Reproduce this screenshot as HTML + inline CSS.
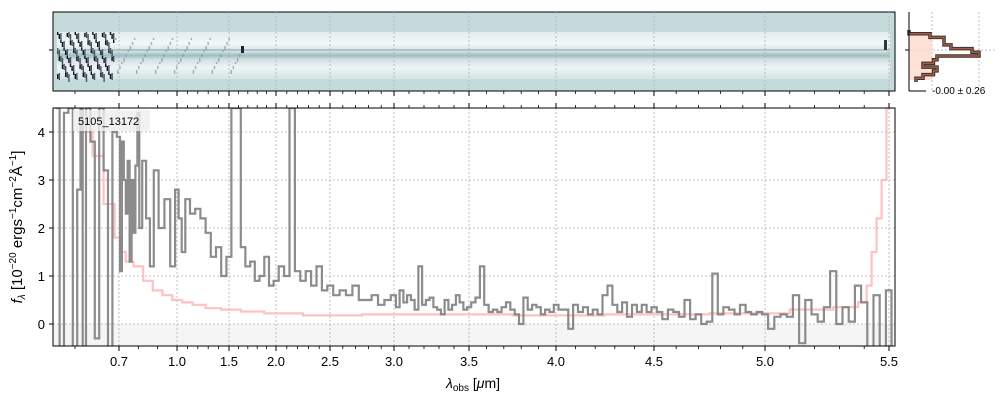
<!DOCTYPE html>
<html><head><meta charset="utf-8"><style>
body{margin:0;background:#fff}
svg{font-family:"Liberation Sans","DejaVu Sans",sans-serif}
</style></head><body>
<svg id="c" width="1000" height="400"></svg>
<script>
const bpW=[0.55,0.7,1.0,1.5,2.0,2.5,3.0,3.5,4.0,4.5,5.0,5.5,5.53];
const bpX=[53,119,177,229,276,330,394,469,556,654,765,889,895];
const xTicks=[0.7,1.0,1.5,2.0,2.5,3.0,3.5,4.0,4.5,5.0,5.5];
const xTickLabels=["0.7","1.0","1.5","2.0","2.5","3.0","3.5","4.0","4.5","5.0","5.5"];
const yTicks=[0,1,2,3,4];
const blueWave=[0.56,0.57,0.58,0.59,0.60,0.61,0.615,0.62,0.63,0.64,0.65,0.66,0.67,0.68,0.69,0.70,0.71,0.72,0.73,0.74,0.75,0.76,0.77,0.78,0.79,0.80,0.81,0.83,0.85,0.87,0.89,0.92,0.95,0.98,1.0,1.03,1.06,1.1,1.15,1.2,1.25,1.3,1.35,1.4,1.45,1.5,1.55,1.6,1.65,1.7,1.75,1.8,1.85,1.9,1.95,2.0,2.05,2.1,2.15,2.2,2.25,2.3,2.35,2.4,2.45,2.5,2.55,2.6,2.65,2.7,2.75,2.8,2.85,2.9,2.95];
const blueVal=[4.5,-0.5,4.4,4.5,-0.5,2.8,4.5,-0.5,4.5,3.8,-0.3,4.5,3.2,-0.5,4.0,3.9,1.1,3.8,3.0,2.3,3.4,1.3,3.0,1.9,3.3,4.4,2.0,3.4,2.2,1.2,3.2,2.0,2.6,1.2,2.8,2.2,1.5,2.6,2.3,2.4,2.2,1.9,1.4,1.6,1.0,1.4,4.5,4.5,1.6,1.2,1.3,0.9,1.0,1.4,0.8,0.9,1.2,1.0,4.5,1.1,0.9,1.1,0.8,1.2,0.7,0.8,0.6,0.7,0.6,0.8,0.5,0.5,0.6,0.4,0.5];
// red part sampled every 0.025 um from 3.0 to 5.5
const redVal=[0.6,0.35,0.7,0.45,0.6,0.5,0.3,1.2,0.4,0.5,0.55,0.35,0.3,0.2,0.5,0.3,0.4,0.6,0.45,0.3,
0.35,0.45,0.55,1.2,0.4,0.25,0.3,0.25,0.35,0.45,0.3,0.2,0.0,0.55,0.3,0.4,0.35,0.2,0.3,0.25,
0.4,0.3,0.3,-0.1,0.4,0.25,0.35,0.2,0.3,0.2,0.6,0.8,0.4,0.25,0.45,0.15,0.4,0.25,0.4,0.25,
0.35,0.25,0.1,0.3,0.25,0.15,0.5,0.1,0.2,0.0,0.05,1.05,0.2,0.35,0.3,0.2,0.4,0.25,0.2,0.25,
0.2,-0.1,0.15,0.2,0.15,0.6,-0.4,0.5,0.2,0.05,0.35,1.1,0.0,0.35,0.05,0.8,0.45,-0.5,0.6,-0.5,0.7,-0.5];
const errWave=[0.6,0.63,0.65,0.68,0.7,0.72,0.75,0.8,0.85,0.9,0.95,1.0,1.1,1.2,1.35,1.5,1.75,2.0,2.5,3.0,3.5,4.0,4.5,5.0,5.2,5.35,5.4,5.42,5.44,5.46,5.48,5.5];
const errVal=[4.5,4.0,3.5,2.5,1.8,1.5,1.3,1.2,0.9,0.7,0.6,0.5,0.45,0.4,0.33,0.3,0.26,0.22,0.18,0.2,0.2,0.18,0.2,0.22,0.3,0.35,0.45,0.8,1.5,2.2,3.0,4.5];
const histVal=[0,0.3,0.5,0.5,0.6,0.9,1.0,0.4,0.35,0.2,0.4,0.35,0.2,0.1];
const redWave=redVal.map((v,i)=>3.0+i*0.025);
const fluxWave=blueWave.concat(redWave), fluxVal=blueVal.concat(redVal);

const NS="http://www.w3.org/2000/svg",svg=document.getElementById('c');
function xs(w){for(let i=0;i<bpW.length-1;i++){if(w<=bpW[i+1]||i==bpW.length-2){return bpX[i]+(w-bpW[i])/(bpW[i+1]-bpW[i])*(bpX[i+1]-bpX[i]);}}}
const Y0=324,PPU=48;function ys(v){return Y0-v*PPU;}
function el(t,a,p){const e=document.createElementNS(NS,t);for(const k in a)e.setAttribute(k,a[k]);(p||svg).appendChild(e);return e;}
const L=53,R=895,T=108,B=346;
const defs=el('defs',{});const cp=el('clipPath',{id:'cl'},defs);el('rect',{x:L,y:T,width:R-L,height:B-T},cp);
// top 2D panel
const top2d=el('rect',{x:L,y:12,width:R-L,height:79,fill:'#c5dbdb'});


const g=el('linearGradient',{id:'bd',x1:0,y1:0,x2:0,y2:1},defs);
[[0,'#e4eeee'],[0.25,'#f2f7f7'],[0.42,'#cfe0e0'],[0.5,'#9fbcc0'],[0.58,'#cfe0e0'],[0.75,'#eef4f4'],[1,'#d4e4e4']].forEach(s=>el('stop',{offset:s[0],'stop-color':s[1]},g));
const band=el('rect',{x:57,y:32,width:833,height:47,fill:'url(#bd)'});

const dk=el('g',{});
for(let i=0;i<36;i++){for(let j=0;j<6;j++){const k=(i*13+j*7)%11;if(k<6)el('rect',{x:57+i*1.6,y:32+j*8+(k%3),width:1.4,height:3+k,fill:k<3?'#101020':'#4a5060'},dk);}}
for(let i=0;i<60;i++){const k=(i*17)%9;el('rect',{x:115+i*2.1,y:38+k*4,width:1.5,height:2+k%3,fill:'#7c9aa2',opacity:0.7},dk);}
el('line',{x1:57,y1:50,x2:890,y2:50,stroke:'#6e8e96','stroke-width':1.5,opacity:0.5});
el('rect',{x:241,y:46,width:3,height:7,fill:'#223'});
el('rect',{x:884,y:40,width:3,height:10,fill:'#334'});
el('rect',{x:L,y:12,width:R-L,height:79,fill:'none',stroke:'#000'});
el('line',{x1:49,y1:50,x2:53,y2:50,stroke:'#000'});
// main grid
const gb=el('rect',{x:L,y:ys(0),width:R-L,height:B-ys(0),fill:'#f5f5f5'});

xTicks.forEach(w=>{el('line',{x1:xs(w),y1:T,x2:xs(w),y2:B,stroke:'#b0b0b0','stroke-dasharray':'2,2','stroke-width':0.8});el('line',{x1:xs(w),y1:12,x2:xs(w),y2:91,stroke:'#b0b0b0','stroke-dasharray':'2,2','stroke-width':0.8});});
yTicks.forEach(v=>el('line',{x1:L,y1:ys(v),x2:R,y2:ys(v),stroke:'#b0b0b0','stroke-dasharray':'2,2','stroke-width':0.8}));
function step(W,V){let d='';for(let i=0;i<W.length;i++){const x0=i==0?xs(W[0])-2:(xs(W[i-1])+xs(W[i]))/2;const x1=i==W.length-1?xs(W[i])+2:(xs(W[i])+xs(W[i+1]))/2;const y=ys(V[i]);d+=(i==0?'M':'L')+x0.toFixed(1)+','+y.toFixed(1)+'L'+x1.toFixed(1)+','+y.toFixed(1);}return d;}
const ep=el('path',{d:step(errWave,errVal),fill:'none',stroke:'#ffb3b3','stroke-width':2.2,opacity:0.8,'clip-path':'url(#cl)'});

const fp=el('path',{d:step(fluxWave,fluxVal),fill:'none',stroke:'#808080','stroke-width':2.2,opacity:0.9,'clip-path':'url(#cl)'});

el('rect',{x:L,y:T,width:R-L,height:B-T,fill:'none',stroke:'#000'});
for(let w=0.6;w<5.55;w+=0.1){const x=xs(w);[[B,B+3],[T,T-3],[91,94]].forEach(p=>el('line',{x1:x,y1:p[0],x2:x,y2:p[1],stroke:'#000','stroke-width':0.8}));}
xTicks.forEach((w,i)=>{const x=xs(w);[[B,B+5],[T,T-5],[91,96]].forEach(p=>el('line',{x1:x,y1:p[0],x2:x,y2:p[1],stroke:'#000'}));
const t=el('text',{x:x,y:366,'text-anchor':'middle','font-size':13});t.textContent=xTickLabels[i];
});
yTicks.forEach(v=>{el('line',{x1:L,y1:ys(v),x2:L-4,y2:ys(v),stroke:'#000'});const t=el('text',{x:45,y:ys(v)+5,'text-anchor':'end','font-size':13});t.textContent=v;
});
el('rect',{x:73,y:110,width:77,height:21,fill:'#eee',opacity:0.8});
const id=el('text',{x:78,y:125,'font-size':11});id.textContent='5105_13172';

const xl=el('text',{x:473,y:388,'text-anchor':'middle','font-size':14});xl.innerHTML='<tspan font-style="italic">λ</tspan><tspan font-size="10" dy="3">obs</tspan><tspan dy="-3"> [</tspan><tspan font-style="italic">μ</tspan>m]';

const yl=el('text',{x:0,y:0,'text-anchor':'middle','font-size':15,transform:'translate(22,227) rotate(-90)'});yl.innerHTML='<tspan font-style="italic">f</tspan><tspan font-size="10" dy="3" font-style="italic">λ</tspan><tspan dy="-3"> [10</tspan><tspan font-size="10" dy="-6">−20</tspan><tspan dy="6"> ergs</tspan><tspan font-size="10" dy="-6">−1</tspan><tspan dy="6">cm</tspan><tspan font-size="10" dy="-6">−2</tspan><tspan dy="6">Å</tspan><tspan font-size="10" dy="-6">−1</tspan><tspan dy="6">]</tspan>';

// histogram panel
const HX=909,HW=70,HT=30,HB=82;
el('line',{x1:932,y1:12,x2:932,y2:91,stroke:'#b0b0b0','stroke-dasharray':'2,2','stroke-width':0.8});
el('line',{x1:979,y1:12,x2:979,y2:91,stroke:'#b0b0b0','stroke-dasharray':'2,2','stroke-width':0.8});
el('line',{x1:HX,y1:50,x2:995,y2:50,stroke:'#b0b0b0','stroke-dasharray':'2,2','stroke-width':0.8});
el('rect',{x:HX,y:34,width:23,height:46,fill:'#fcd9cc',opacity:0.8});
let hd='M'+HX+','+HT;const hh=(HB-HT)/histVal.length;
histVal.forEach((v,i)=>{const x=HX+v*HW;hd+='L'+x.toFixed(1)+','+(HT+i*hh).toFixed(1)+'L'+x.toFixed(1)+','+(HT+(i+1)*hh).toFixed(1);});
el('path',{d:hd,fill:'none',stroke:'#333','stroke-width':3.5});
const hp=el('path',{d:hd,fill:'none',stroke:'#b05a3c','stroke-width':1.5});

el('line',{x1:HX,y1:12,x2:HX,y2:91,stroke:'#000'});el('line',{x1:HX,y1:91,x2:926,y2:91,stroke:'#000'});
el('line',{x1:905,y1:50,x2:909,y2:50,stroke:'#000'});
const ht=el('text',{x:932,y:94,'font-size':10});ht.textContent='-0.00 ± 0.26';

</script>
</body></html>
